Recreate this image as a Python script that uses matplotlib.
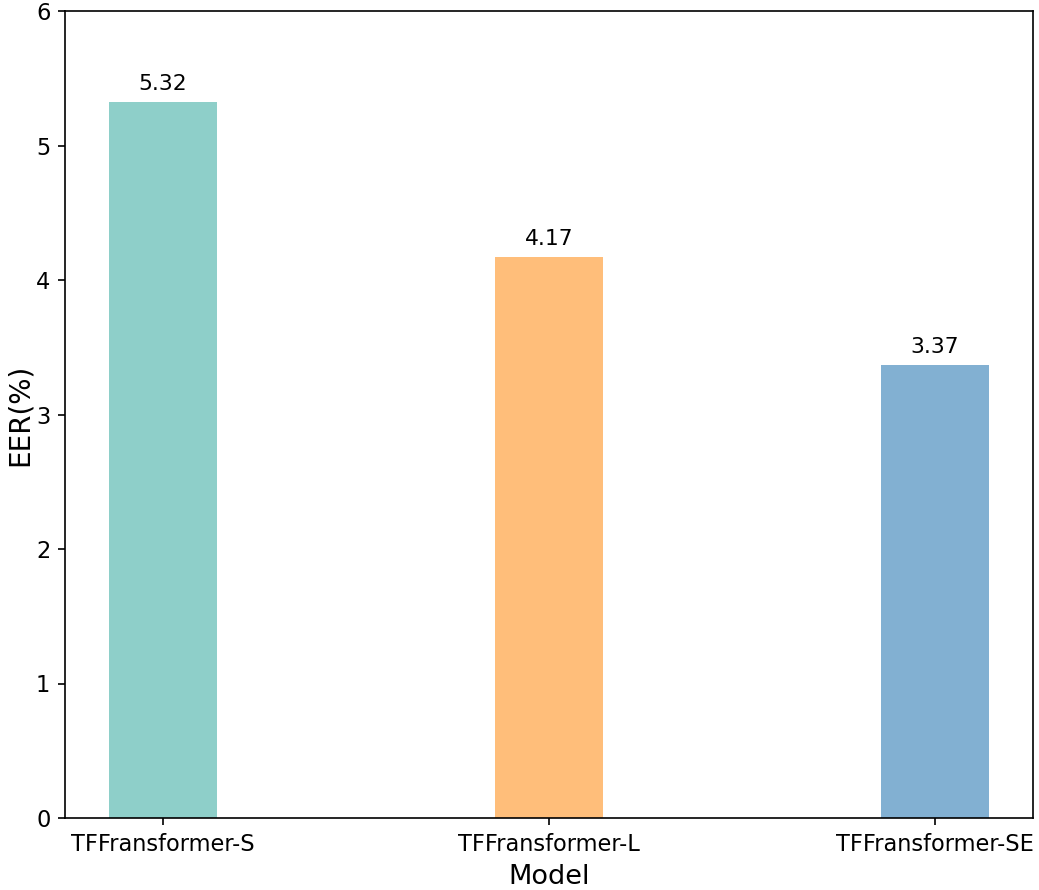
import matplotlib
matplotlib.use("Agg")
import matplotlib.pyplot as plt

models = ["TFFransformer-S", "TFFransformer-L", "TFFransformer-SE"]
eer = [5.32, 4.17, 3.37]
colors = ["#8ECFC9", "#FFBE7A", "#82B0D2"]

dpi = 150
fig = plt.figure(figsize=(1039 / dpi, 890 / dpi), dpi=dpi)
ax = fig.add_axes([65 / 1039, 1 - 818 / 890, (1033 - 65) / 1039, (818 - 11) / 890])
bars = ax.bar(models, eer, width=0.28, color=colors)
for b, v in zip(bars, eer):
    ax.text(b.get_x() + b.get_width() / 2, v + 0.06, f"{v:.2f}", ha="center", va="bottom", fontsize=10.5)
ax.set_ylim(0, 6)
ax.tick_params(labelsize=10.8)
ax.set_xlabel("Model", fontsize=13, labelpad=4)
ax.set_ylabel("EER(%)", fontsize=13.3, labelpad=1)
fig.savefig("out.png", dpi=dpi)
